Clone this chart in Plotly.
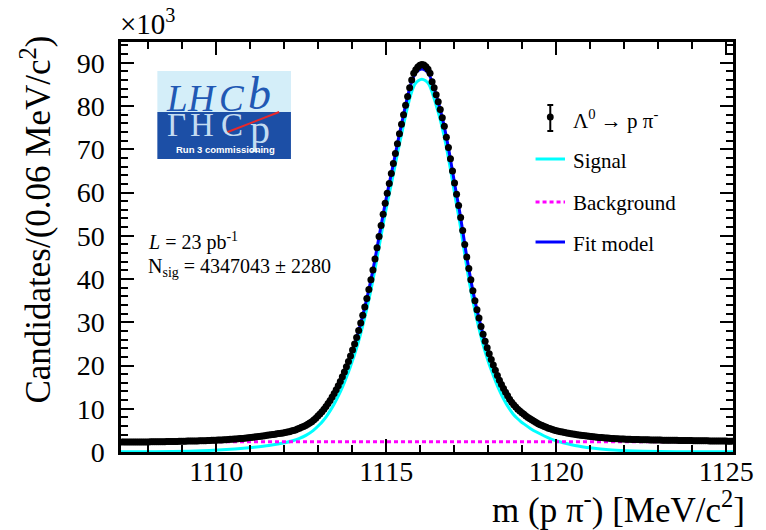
import numpy as np
import plotly.graph_objects as go

# ---------------- data (values in units of 10^3 candidates) ----------------
bin_low = 1107.2
bin_width = 0.06
n_bins = 300
mass = [round(bin_low + bin_width * (i + 0.5), 3) for i in range(n_bins)]

candidates_k = [
    2.30, 2.30, 2.30, 2.31, 2.31, 2.31, 2.32, 2.32, 2.32, 2.33,
    2.33, 2.33, 2.34, 2.34, 2.35, 2.35, 2.36, 2.36, 2.37, 2.38,
    2.38, 2.39, 2.40, 2.41, 2.42, 2.43, 2.44, 2.45, 2.46, 2.48,
    2.50, 2.51, 2.52, 2.53, 2.54, 2.55, 2.56, 2.57, 2.59, 2.60,
    2.62, 2.63, 2.65, 2.67, 2.69, 2.71, 2.73, 2.75, 2.78, 2.80,
    2.83, 2.86, 2.89, 2.92, 2.95, 2.98, 3.02, 3.06, 3.10, 3.14,
    3.19, 3.24, 3.29, 3.34, 3.40, 3.46, 3.52, 3.58, 3.64, 3.71,
    3.78, 3.85, 3.92, 3.99, 4.06, 4.13, 4.20, 4.27, 4.34, 4.42,
    4.50, 4.60, 4.70, 4.85, 5.00, 5.10, 5.30, 5.50, 5.70, 5.90,
    6.10, 6.40, 6.70, 7.00, 7.40, 7.80, 8.30, 8.80, 9.30, 9.90,
    10.5, 11.2, 11.9, 12.7, 13.5, 14.4, 15.3, 16.3, 17.4, 18.5,
    19.7, 20.9, 22.2, 23.6, 25.0, 26.5, 28.1, 29.8, 31.6, 33.5,
    35.5, 37.6, 39.8, 42.1, 44.6, 47.2, 49.8, 52.4, 55.0, 57.5,
    59.8, 62.1, 64.4, 66.7, 69.0, 71.3, 73.6, 75.8, 78.0, 80.2,
    82.2, 84.2, 86.0, 87.6, 88.4, 89.0, 89.4,
    89.6,
    89.5, 89.1, 88.5, 87.6, 85.6, 84.2, 82.6, 81.0, 79.2, 77.3,
    75.3, 72.8, 70.4, 67.8, 65.0, 62.2, 59.6, 57.0, 54.2, 51.2,
    48.0, 45.1, 42.4, 39.8, 37.3, 35.0, 32.9, 31.0, 29.0, 27.2,
    25.6, 24.1, 22.7, 21.4, 20.1, 18.9, 17.7, 16.6, 15.6, 14.7,
    13.8, 13.0, 12.2, 11.5, 10.9, 10.4, 9.9, 9.5, 9.1, 8.7,
    8.3, 8.0, 7.7, 7.4, 7.1, 6.8, 6.55, 6.3, 6.1, 5.9,
    5.7, 5.5, 5.35, 5.2, 5.05, 4.92, 4.80, 4.70, 4.60, 4.50,
    4.41, 4.32, 4.24, 4.16, 4.08, 4.01, 3.94, 3.87, 3.80, 3.74,
    3.68, 3.62, 3.57, 3.52, 3.47, 3.42, 3.38, 3.34, 3.30, 3.26,
    3.22, 3.18, 3.15, 3.12, 3.09, 3.06, 3.03, 3.01, 2.99, 2.97,
    2.95, 2.93, 2.91, 2.90, 2.88, 2.87, 2.85, 2.84, 2.83, 2.82,
    2.81, 2.80, 2.79, 2.78, 2.77, 2.76, 2.75,
    2.74, 2.73, 2.73, 2.72, 2.71, 2.70, 2.70, 2.69, 2.68, 2.67,
    2.67, 2.66, 2.65, 2.64, 2.64, 2.63, 2.62, 2.61, 2.61, 2.60,
    2.59, 2.58, 2.58, 2.57, 2.56, 2.56, 2.55, 2.54, 2.54, 2.53,
    2.52, 2.52, 2.51, 2.51, 2.50,
]

signal_mass = [
    1107.2, 1108.2, 1109.2, 1110.05, 1110.55, 1111.05, 1111.55, 1112.05,
    1112.25, 1112.45, 1112.65, 1112.85,
    1113.05, 1113.15, 1113.25, 1113.35, 1113.45, 1113.55, 1113.65, 1113.75,
    1113.85, 1113.95, 1114.05, 1114.15, 1114.25, 1114.35, 1114.45, 1114.55,
    1114.65, 1114.75, 1114.85, 1114.95, 1115.05, 1115.15, 1115.25, 1115.35,
    1115.45, 1115.55, 1115.65, 1115.75, 1115.85, 1115.95, 1116.05,
    1116.15, 1116.25, 1116.35, 1116.45, 1116.55, 1116.65, 1116.75, 1116.85,
    1116.95, 1117.05, 1117.15, 1117.25, 1117.35, 1117.45, 1117.55, 1117.65,
    1117.75, 1117.85, 1117.95, 1118.05, 1118.15, 1118.25, 1118.35, 1118.45,
    1118.55, 1118.65, 1118.75, 1118.85, 1118.95, 1119.05,
    1119.25, 1119.45, 1119.65, 1119.85, 1120.05, 1120.55, 1121.05, 1121.55,
    1122.05, 1123.05, 1124.05, 1125.2,
]
signal_k = [
    0.05, 0.08, 0.17, 0.45, 0.70, 1.05, 1.50, 2.20, 2.60, 3.15, 3.90, 4.95,
    6.4, 7.3, 8.3, 9.5, 10.8, 12.3, 13.9, 15.7, 17.7, 19.8, 22.1, 24.6,
    27.4, 30.5, 33.8, 37.4, 41.4, 45.7, 50.0, 54.3, 58.2, 62.0, 65.8, 69.7,
    73.4, 77.1, 80.5, 83.3, 85.1, 85.9, 86.2,
    85.9, 85.1, 83.2, 80.7, 78.0, 74.9, 71.3, 67.1, 62.6, 58.0, 53.7, 48.8,
    43.7, 39.1, 34.9, 31.2, 27.9, 24.8, 22.2, 19.8, 17.7, 15.7, 13.9, 12.3,
    10.9, 9.7, 8.6, 7.8, 7.1, 6.5,
    5.4, 4.5, 3.7, 3.0, 2.5, 1.5, 0.9, 0.5, 0.3, 0.12, 0.06, 0.03,
]
background_k = 2.35
x_range = [1107.2, 1125.2]

# ---------------- derived ----------------
cand = np.array(candidates_k)
cand_err = np.sqrt(cand * 1000.0) / 1000.0
fit_model_k = np.array(signal_k) + background_k

# ---------------- geometry helpers (pixel -> paper) ----------------
W, H = 766, 530
ML, MR, MT, MB = 121, 22, 42, 78
PW, PH = W - ML - MR, H - MT - MB


def px(x):
    return (x - ML) / PW


def py(y):
    return (H - MB - y) / PH


SERIF = "Liberation Serif"
fig = go.Figure()

fig.add_trace(go.Scatter(x=signal_mass, y=signal_k, mode="lines",
                         line=dict(color="#00ffff", width=3, shape="spline", smoothing=0.6),
                         showlegend=False, hoverinfo="skip"))
fig.add_trace(go.Scatter(x=x_range, y=[background_k, background_k], mode="lines",
                         line=dict(color="#ff00ff", width=3, dash="4px,3px"),
                         showlegend=False, hoverinfo="skip"))
fig.add_trace(go.Scatter(x=signal_mass, y=fit_model_k, mode="lines",
                         line=dict(color="#0000ff", width=3, shape="spline", smoothing=0.6),
                         showlegend=False, hoverinfo="skip"))
fig.add_trace(go.Scatter(x=mass, y=cand, mode="markers",
                         marker=dict(color="black", size=7),
                         error_y=dict(type="data", array=cand_err, color="black",
                                      thickness=1.5, width=0),
                         showlegend=False))

axis_common = dict(showline=True, linecolor="black", linewidth=2.5, mirror="ticks",
                   ticks="inside", ticklen=13, tickwidth=2, tickcolor="black",
                   showgrid=False, zeroline=False,
                   tickfont=dict(family=SERIF, size=28, color="black"))

fig.update_xaxes(range=x_range, tick0=1110, dtick=5, ticklabelstandoff=-7,
                 ticklabeloverflow="allow",
                 minor=dict(dtick=1, ticks="inside", ticklen=7, tickwidth=2,
                            tickcolor="black", showgrid=False),
                 **axis_common)
fig.update_yaxes(range=[0, 94.8], tick0=0, dtick=10, ticklabelstandoff=8,
                 minor=dict(dtick=2, ticks="inside", ticklen=7, tickwidth=2,
                            tickcolor="black", showgrid=False),
                 **axis_common)

shapes = []
annotations = []


def ann(text, x, y, size, xanchor="left", yanchor="middle", color="black",
        family=SERIF, textangle=0):
    annotations.append(dict(text=text, x=px(x), y=py(y), xref="paper", yref="paper",
                            xanchor=xanchor, yanchor=yanchor, showarrow=False,
                            textangle=textangle, borderpad=0,
                            font=dict(family=family, size=size, color=color)))


def seg(x0, y0, x1, y1, color, width, dash="solid"):
    shapes.append(dict(type="line", xref="paper", yref="paper",
                       x0=px(x0), y0=py(y0), x1=px(x1), y1=py(y1),
                       line=dict(color=color, width=width, dash=dash), layer="above"))


# axis titles and exponent
ann("Candidates/(0.06 MeV/c<sup>2</sup>)", 34, 35, 35, xanchor="center",
    yanchor="top", textangle=-90)
ann("m (p π<sup>-</sup>) [MeV/c<sup>2</sup>]", 757, 507, 35, xanchor="right")
ann("×10<sup>3</sup>", 119, 22, 29)

# info text
ann("<i>L</i> = 23 pb<sup>-1</sup>", 147, 241, 20)
ann("N<sub>sig</sub> = 4347043 ± 2280", 147, 267, 20)

# legend
seg(558, 105, 558, 131, "black", 2)
seg(555, 105, 561, 105, "black", 2)
seg(555, 131, 561, 131, "black", 2)
shapes.append(dict(type="circle", xref="paper", yref="paper",
                   x0=px(554.5), x1=px(561.5), y0=py(120.5), y1=py(113.5),
                   fillcolor="black", line=dict(color="black", width=0), layer="above"))
ann("Λ<sup>0</sup> → p π<sup>-</sup>", 580, 120, 21)
seg(543, 159, 573, 159, "#00ffff", 3)
ann("Signal", 580, 161, 21)
seg(543, 202, 573, 202, "#ff00ff", 3, dash="4px,3px")
ann("Background", 580, 203, 21)
seg(543, 242, 573, 242, "#0000ff", 3)
ann("Fit model", 580, 244, 21)

# LHCb logo
shapes.append(dict(type="rect", xref="paper", yref="paper", x0=px(158), x1=px(294),
                   y0=py(112), y1=py(71), fillcolor="#d4eef9", line=dict(width=0),
                   layer="above"))
shapes.append(dict(type="rect", xref="paper", yref="paper", x0=px(158), x1=px(294),
                   y0=py(159), y1=py(112), fillcolor="#1c4fa6", line=dict(width=0),
                   layer="above"))
logo_blue = "#2158b4"
logo_refl = "#c3dcf1"
for ch, xc, sz in [("L", 178, 37), ("H", 203, 37), ("C", 234, 37), ("b", 262, 46)]:
    ann("<i>" + ch + "</i>", xc, 120, sz, xanchor="center", yanchor="bottom",
        color=logo_blue)
for ch, xc, sz in [("Γ", 178, 33), ("H", 203, 33), ("C", 234, 33), ("p", 262, 40)]:
    ann(ch, xc, 106, sz, xanchor="center", yanchor="top", color=logo_refl)
seg(227, 133, 282, 112, "#e8282a", 2)
ann("<b>Run 3 commissioning</b>", 227, 149, 9.5, xanchor="center",
    color="white", family="Liberation Sans")

fig.update_layout(width=W, height=H, margin=dict(l=ML, r=MR, t=MT, b=MB),
                  paper_bgcolor="white", plot_bgcolor="white",
                  showlegend=False, shapes=shapes, annotations=annotations)

fig.write_html("out.html")
